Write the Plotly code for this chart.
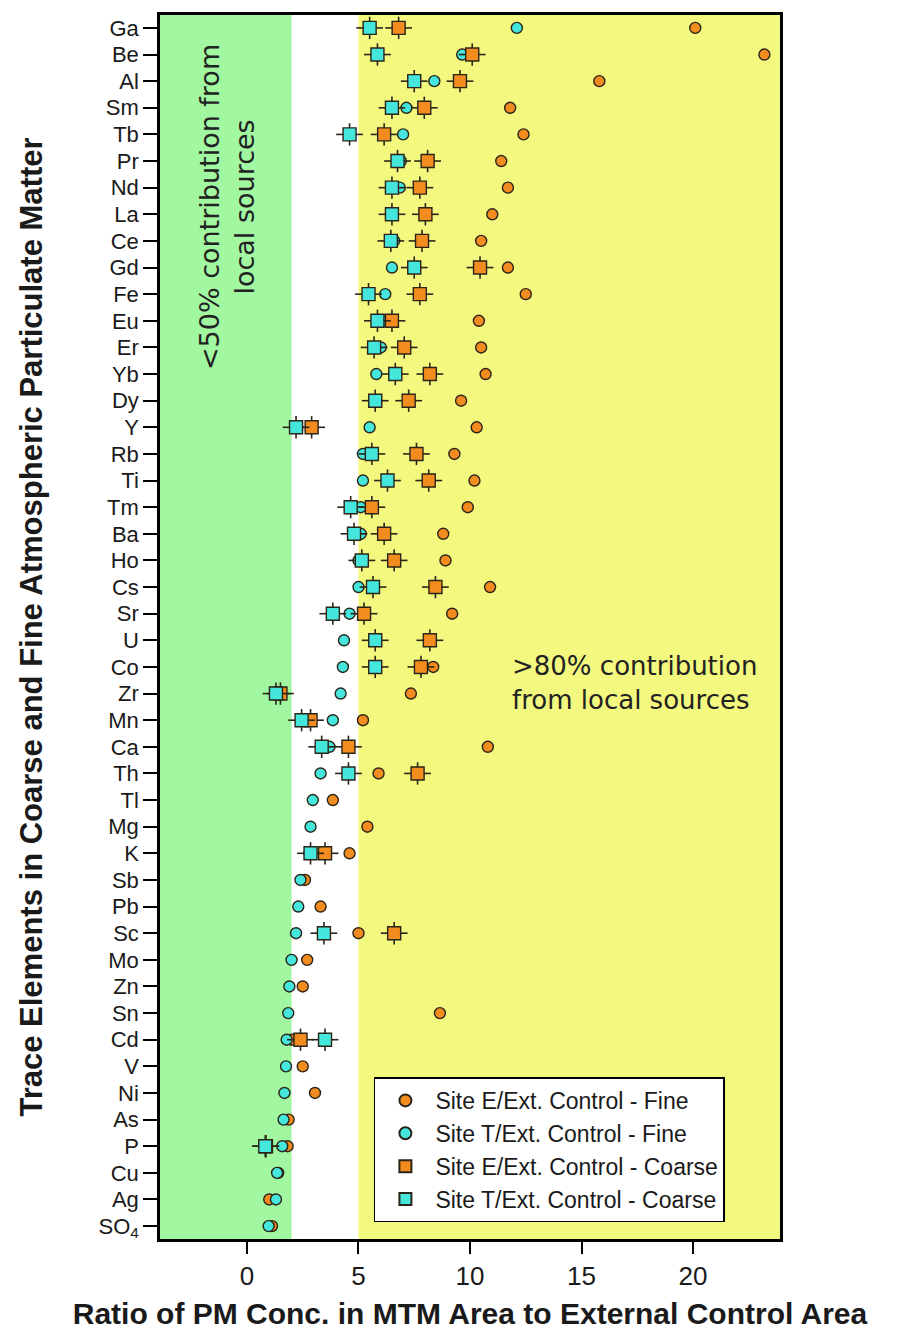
import plotly.graph_objects as go

elements = ["Ga","Be","Al","Sm","Tb","Pr","Nd","La","Ce","Gd","Fe","Eu","Er","Yb","Dy","Y",
            "Rb","Ti","Tm","Ba","Ho","Cs","Sr","U","Co","Zr","Mn","Ca","Th","Tl","Mg","K",
            "Sb","Pb","Sc","Mo","Zn","Sn","Cd","V","Ni","As","P","Cu","Ag","SO<sub>4</sub>"]

e_fine = [20.1, 23.2, 15.8, 11.8, 12.4, 11.4, 11.7, 11.0, 10.5, 11.7, 12.5, 10.4, 10.5, 10.7,
          9.6, 10.3, 9.3, 10.2, 9.9, 8.8, 8.9, 10.9, 9.2, 8.2, 8.35, 7.35, 5.2, 10.8, 5.9,
          3.85, 5.4, 4.6, 2.6, 3.3, 5.0, 2.7, 2.5, 8.65, 2.0, 2.5, 3.05, 1.87, 1.82, 1.4,
          1.0, 1.12]
t_fine = [12.1, 9.65, 8.4, 7.15, 7.0, 6.9, 6.85, 6.5, 6.6, 6.5, 6.2, 6.2, 6.0, 5.8, 5.8,
          5.5, 5.2, 5.2, 5.1, 5.1, 5.0, 5.0, 4.6, 4.35, 4.3, 4.2, 3.85, 3.7, 3.3, 2.95,
          2.85, 2.8, 2.4, 2.3, 2.2, 2.0, 1.9, 1.85, 1.78, 1.75, 1.68, 1.64, 1.58, 1.35,
          1.3, 0.97]
e_coarse = [6.8, 10.1, 9.55, 7.95, 6.15, 8.1, 7.75, 8.0, 7.85, 10.45, 7.75, 6.5, 7.05, 8.2,
            7.25, 2.9, 7.6, 8.15, 5.6, 6.15, 6.6, 8.45, 5.25, 8.2, 7.8, 1.5, 2.85, 4.55,
            7.65, None, None, 3.5, None, None, 6.6, None, None, None, 2.4, None, None,
            None, 0.85, None, None, None]
t_coarse = [5.5, 5.85, 7.5, 6.5, 4.6, 6.75, 6.5, 6.5, 6.45, 7.5, 5.45, 5.85, 5.7, 6.65,
            5.75, 2.2, 5.6, 6.3, 4.65, 4.8, 5.15, 5.65, 3.85, 5.75, 5.75, 1.3, 2.45, 3.35,
            4.55, None, None, 2.85, None, None, 3.45, None, None, None, 3.5, None, None,
            None, 0.82, None, None, None]

x_ticks = [0, 5, 10, 15, 20]
series_names = ["Site E/Ext. Control - Fine", "Site T/Ext. Control - Fine",
                "Site E/Ext. Control - Coarse", "Site T/Ext. Control - Coarse"]

ORANGE = "#f28c1e"
CYAN = "#45e6dc"
EDGE = "#2b2418"

ypos = list(range(len(elements)))

fig = go.Figure()

fig.add_trace(go.Scatter(x=e_fine, y=ypos, mode="markers", name=series_names[0],
                         marker=dict(symbol="circle", size=11, color=ORANGE,
                                     line=dict(color=EDGE, width=1.4))))
fig.add_trace(go.Scatter(x=t_fine, y=ypos, mode="markers", name=series_names[1],
                         marker=dict(symbol="circle", size=11, color=CYAN,
                                     line=dict(color=EDGE, width=1.4))))
for vals, nm, col in [(e_coarse, series_names[2], ORANGE), (t_coarse, series_names[3], CYAN)]:
    fig.add_trace(go.Scatter(
        x=vals, y=ypos, mode="markers", name=nm,
        marker=dict(symbol="square", size=13, color=col, line=dict(color=EDGE, width=1.4)),
        error_x=dict(type="constant", value=0.6, width=0, thickness=1.6, color=EDGE),
        error_y=dict(type="constant", value=0.42, width=0, thickness=1.6, color=EDGE),
    ))

# background bands
fig.add_shape(type="rect", xref="x", yref="paper", x0=-10, x1=2, y0=0, y1=1,
              fillcolor="#a2f8a0", line_width=0, layer="below")
fig.add_shape(type="rect", xref="x", yref="paper", x0=5, x1=30, y0=0, y1=1,
              fillcolor="#f3f87f", line_width=0, layer="below")

fig.add_annotation(text="<50% contribution from<br>local sources", xref="x", yref="paper",
                   x=-0.9, y=0.843, xanchor="center", yanchor="middle", textangle=-90,
                   showarrow=False,
                   font=dict(family="DejaVu Sans", size=27, color="#222222"), align="center")
fig.add_annotation(text=">80% contribution<br>from local sources", xref="paper", yref="paper",
                   x=0.565, y=0.454, xanchor="left", yanchor="middle", showarrow=False,
                   font=dict(family="DejaVu Sans", size=26, color="#222222"), align="left")

fig.update_layout(
    width=904, height=1338,
    margin=dict(l=160, r=124, t=12, b=93),
    plot_bgcolor="white", paper_bgcolor="white",
    font=dict(family="Liberation Sans, Arial, sans-serif", color="#1a1a1a"),
    showlegend=True,
    legend=dict(x=0.345, y=0.132, xanchor="left", yanchor="top",
                bgcolor="white", bordercolor="black", borderwidth=1.5,
                font=dict(size=23, family="Liberation Sans, Arial"), itemsizing="constant",
                itemwidth=50),
)
fig.update_xaxes(range=[-3.9, 23.9], tickvals=x_ticks, ticks="outside", ticklen=12, tickwidth=1.5,
                 tickcolor="black", showline=True, linewidth=2.5, linecolor="black", mirror=True,
                 showgrid=False, zeroline=False, tickfont=dict(size=26),
                 title=dict(text="<b>Ratio of PM Conc. in MTM Area to External Control Area</b>",
                            font=dict(size=30), standoff=14))
fig.update_yaxes(range=[45.485, -0.485], tickmode="array", tickvals=ypos, ticktext=elements,
                 ticks="outside", ticklen=14, tickwidth=1.5,
                 tickcolor="black", showline=True, linewidth=2.5, linecolor="black", mirror=True,
                 showgrid=False, zeroline=False, tickfont=dict(size=22),
                 title=dict(text="<b>Trace Elements in Coarse and Fine Atmospheric Particulate Matter</b>",
                            font=dict(size=31), standoff=47))

fig.write_html("out.html")
